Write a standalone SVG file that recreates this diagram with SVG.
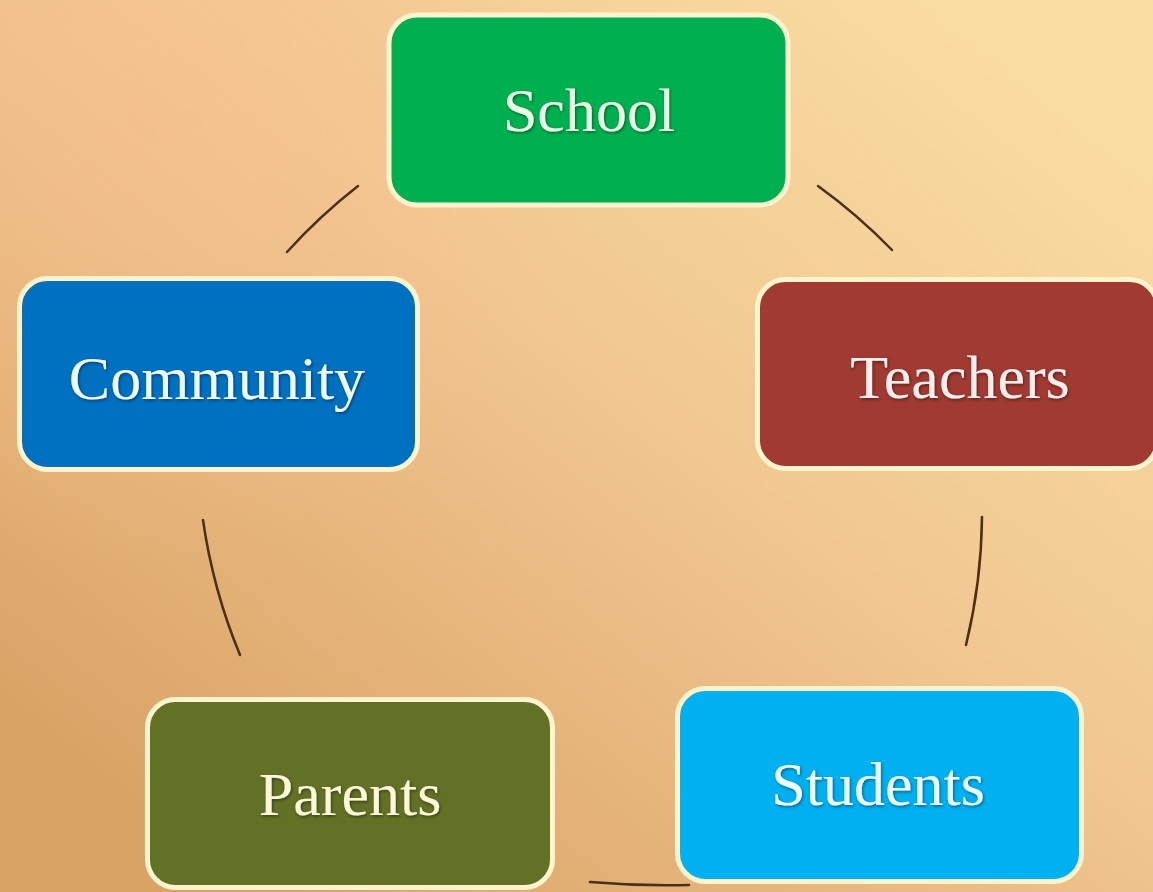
<svg xmlns="http://www.w3.org/2000/svg" width="1153" height="892" viewBox="0 0 1153 892">
  <defs>
    <linearGradient id="bg" gradientUnits="userSpaceOnUse" x1="950" y1="0" x2="250" y2="892">
      <stop offset="0" stop-color="#f9dca2"/>
      <stop offset="0.45" stop-color="#f1c691"/>
      <stop offset="1" stop-color="#daa366"/>
    </linearGradient>
    <radialGradient id="tl" gradientUnits="userSpaceOnUse" cx="150" cy="120" r="450">
      <stop offset="0" stop-color="#f7c08e" stop-opacity="0.6"/>
      <stop offset="1" stop-color="#f7c08e" stop-opacity="0"/>
    </radialGradient>
    <filter id="glow" x="-10%" y="-20%" width="120%" height="140%">
      <feDropShadow dx="1" dy="1.5" stdDeviation="1.5" flood-color="#000" flood-opacity="0.45"/>
    </filter>
  </defs>
  <style>
    .box { stroke: #fcf4cc; stroke-width: 5; }
    .lbl { font-family: "Liberation Serif", "DejaVu Serif", serif; font-size: 62px; text-anchor: middle; filter: url(#glow); }
    .conn { fill: none; stroke: #4a3016; stroke-width: 2.5; stroke-linecap: round; }
  </style>
  <rect x="0" y="0" width="1153" height="892" fill="url(#bg)"/>
  <rect x="0" y="0" width="1153" height="892" fill="url(#tl)"/>

  <g id="connectors">
    <path class="conn" d="M287,252 A560,560 0 0 1 358,186"/>
    <path class="conn" d="M818,186 A560,560 0 0 1 892,250"/>
    <path class="conn" d="M982,517 A560,560 0 0 1 966,645"/>
    <path class="conn" d="M689,885 A900,900 0 0 1 590,882"/>
    <path class="conn" d="M240,655 A560,560 0 0 1 203,520"/>
  </g>

  <g id="school">
    <rect class="box" x="389" y="15" width="399" height="190" rx="28" fill="#00b050"/>
    <text class="lbl" x="589" y="131" fill="#eafbe6">School</text>
  </g>
  <g id="community">
    <rect class="box" x="19.5" y="278.5" width="398" height="191" rx="28" fill="#0070c0"/>
    <text class="lbl" x="217" y="399" fill="#eef8ff">Community</text>
  </g>
  <g id="teachers">
    <rect class="box" x="757.5" y="279.5" width="400" height="189" rx="28" fill="#a03a32"/>
    <text class="lbl" x="960" y="398" fill="#fdeeee">Teachers</text>
  </g>
  <g id="parents">
    <rect class="box" x="147.5" y="699.5" width="405" height="188" rx="28" fill="#637126"/>
    <text class="lbl" x="350" y="815" fill="#fbf7d8">Parents</text>
  </g>
  <g id="students">
    <rect class="box" x="677.5" y="688.5" width="404" height="193" rx="28" fill="#00b0f0"/>
    <text class="lbl" x="878" y="805" fill="#eefcff">Students</text>
  </g>
</svg>
